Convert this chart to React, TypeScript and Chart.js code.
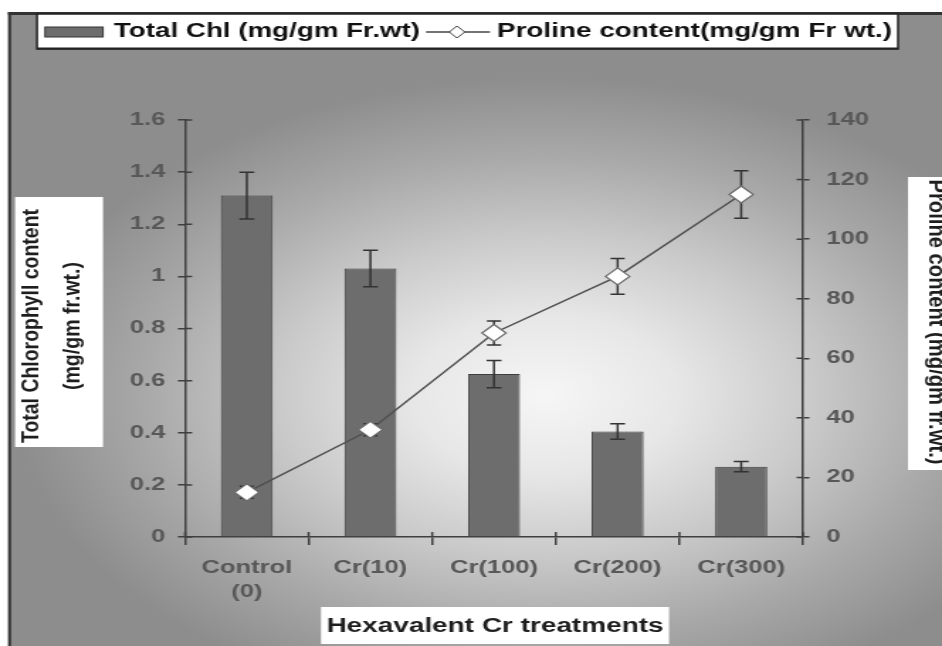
import React, { useEffect, useRef } from 'react';
import { Chart, registerables } from 'chart.js';

Chart.register(...registerables);

// ---------- data ----------
const categories: (string | string[])[] = [['Control', '(0)'], 'Cr(10)', 'Cr(100)', 'Cr(200)', 'Cr(300)'];
const chlValues = [1.31, 1.03, 0.625, 0.405, 0.27];
const chlErrors = [0.09, 0.07, 0.052, 0.03, 0.02];
const prolineValues = [15, 36, 68.5, 87.5, 115];
const prolineErrors = [2, 2, 4, 6, 8];
const leftTickLabels = ['0', '0.2', '0.4', '0.6', '0.8', '1', '1.2', '1.4', '1.6'];
const rightTickLabels = ['0', '20', '40', '60', '80', '100', '120', '140'];
const legendLabels = ['Total Chl (mg/gm Fr.wt)', 'Proline content(mg/gm Fr wt.)'];
const xTitle = 'Hexavalent Cr treatments';
const leftTitle = ['Total Chlorophyll content', '(mg/gm fr.wt.)'];
const rightTitle = 'Proline content (mg/gm fr.wt.)';

// ---------- geometry (canvas is drawn narrower and stretched horizontally) ----------
const CW = 664;
const CH = 646;
const DW = 942;
const S = DW / CW;
const X = (v: number) => v / S;
const FONT = '"Liberation Sans", Arial, Helvetica, sans-serif';
const AXIS = '#3f3f3f';
const TICK_TEXT = '#585858';

function fitText(
  ctx: CanvasRenderingContext2D,
  text: string,
  x: number,
  y: number,
  target: number,
  font: string,
  rotation: number,
  color: string,
  align: CanvasTextAlign,
) {
  ctx.save();
  ctx.font = font;
  const w = ctx.measureText(text).width;
  ctx.translate(x, y);
  ctx.rotate(rotation);
  ctx.scale(target / w, 1);
  ctx.textAlign = align;
  ctx.textBaseline = 'middle';
  ctx.fillStyle = color;
  ctx.fillText(text, 0, 0);
  ctx.restore();
}

function drawErrorBars(ctx: CanvasRenderingContext2D, xs: number[], scale: any, values: number[], errors: number[], cap: number) {
  ctx.save();
  ctx.strokeStyle = '#333333';
  ctx.lineWidth = 1.5;
  values.forEach((v, i) => {
    const x = xs[i];
    const top = scale.getPixelForValue(v + errors[i]);
    const bot = scale.getPixelForValue(v - errors[i]);
    ctx.beginPath();
    ctx.moveTo(x, top);
    ctx.lineTo(x, bot);
    ctx.moveTo(x - cap / 2, top);
    ctx.lineTo(x + cap / 2, top);
    ctx.moveTo(x - cap / 2, bot);
    ctx.lineTo(x + cap / 2, bot);
    ctx.stroke();
  });
  ctx.restore();
}

const decorPlugin = {
  id: 'decor',
  beforeDraw(chart: any) {
    const ctx: CanvasRenderingContext2D = chart.ctx;
    ctx.save();
    ctx.fillStyle = '#ffffff';
    ctx.fillRect(0, 0, CW, CH);
    ctx.beginPath();
    ctx.rect(X(9), 13, CW - X(9), CH - 13);
    ctx.clip();
    ctx.translate(X(545), 395);
    ctx.scale(1, 0.85);
    const g = ctx.createRadialGradient(0, 0, 0, 0, 0, 375);
    g.addColorStop(0, '#f6f6f6');
    g.addColorStop(0.25, '#e7e7e7');
    g.addColorStop(0.5, '#cacaca');
    g.addColorStop(0.75, '#a9a9a9');
    g.addColorStop(1, '#8d8d8d');
    ctx.fillStyle = g;
    ctx.fillRect(-3000, -3000, 6000, 6000);
    ctx.restore();
    ctx.save();
    ctx.fillStyle = '#333333';
    ctx.fillRect(X(8), 12, X(3), CH - 12);
    ctx.fillRect(X(8), 12, CW, 3);
    ctx.restore();
  },
  beforeDatasetsDraw(chart: any) {
    const ctx: CanvasRenderingContext2D = chart.ctx;
    const a = chart.chartArea;
    ctx.save();
    ctx.strokeStyle = AXIS;
    ctx.lineWidth = 1.5;
    ctx.beginPath();
    chart.scales.y.ticks.forEach((t: any) => {
      const p = chart.scales.y.getPixelForValue(t.value);
      ctx.moveTo(a.left, p);
      ctx.lineTo(a.left + 5, p);
    });
    chart.scales.y1.ticks.forEach((t: any) => {
      const p = chart.scales.y1.getPixelForValue(t.value);
      ctx.moveTo(a.right, p);
      ctx.lineTo(a.right - 4.5, p);
    });
    const n = categories.length;
    for (let i = 0; i <= n; i++) {
      const p = a.left + (i * (a.right - a.left)) / n;
      ctx.moveTo(p, a.bottom);
      ctx.lineTo(p, a.bottom - 5);
    }
    ctx.stroke();
    ctx.restore();
  },
  afterDatasetDraw(chart: any, args: any) {
    if (args.index !== 0) return;
    const xs = args.meta.data.map((el: any) => el.x);
    drawErrorBars(chart.ctx, xs, chart.scales.y, chlValues, chlErrors, 10.5);
  },
  beforeDatasetDraw(chart: any, args: any) {
    if (args.index !== 1) return;
    const xs = args.meta.data.map((el: any) => el.x);
    drawErrorBars(chart.ctx, xs, chart.scales.y1, prolineValues, prolineErrors, 10);
  },
  afterDraw(chart: any) {
    const ctx: CanvasRenderingContext2D = chart.ctx;
    ctx.save();
    // legend box
    ctx.fillStyle = '#ffffff';
    ctx.fillRect(X(37), 14, X(898) - X(37), 35);
    ctx.strokeStyle = '#222222';
    ctx.lineWidth = 1.5;
    ctx.strokeRect(X(37), 14, X(898) - X(37), 35);
    ctx.fillStyle = '#222222';
    ctx.fillRect(X(37), 47.5, X(898) - X(37), 2);
    // bar swatch
    ctx.fillStyle = '#6d6d6d';
    ctx.fillRect(X(45), 27, X(103) - X(45), 10);
    ctx.strokeStyle = '#333333';
    ctx.lineWidth = 1;
    ctx.strokeRect(X(45), 27, X(103) - X(45), 10);
    fitText(ctx, legendLabels[0], X(114), 32, X(306), `bold 19.5px ${FONT}`, 0, '#111111', 'left');
    // line swatch
    ctx.strokeStyle = '#444444';
    ctx.lineWidth = 1.3;
    ctx.beginPath();
    ctx.moveTo(X(426), 32);
    ctx.lineTo(X(490), 32);
    ctx.stroke();
    const dx = X(457);
    ctx.beginPath();
    ctx.moveTo(dx - 5.5, 32);
    ctx.lineTo(dx, 26);
    ctx.lineTo(dx + 5.5, 32);
    ctx.lineTo(dx, 38);
    ctx.closePath();
    ctx.fillStyle = '#ffffff';
    ctx.fill();
    ctx.lineWidth = 1;
    ctx.stroke();
    fitText(ctx, legendLabels[1], X(497), 32, X(395), `bold 19.5px ${FONT}`, 0, '#111111', 'left');

    // x title
    ctx.fillStyle = '#ffffff';
    ctx.fillRect(X(321), 607, X(669) - X(321), 37);
    fitText(ctx, xTitle, X(495), 626, X(337), `bold 20px ${FONT}`, 0, '#1e1e1e', 'center');

    // left title
    ctx.fillStyle = '#ffffff';
    ctx.fillRect(X(15), 197, X(103) - X(15), 250);
    fitText(ctx, leftTitle[0], X(32), 326, 234, `bold 17px ${FONT}`, -Math.PI / 2, '#1e1e1e', 'center');
    fitText(ctx, leftTitle[1], X(73), 326, 128, `bold 17px ${FONT}`, -Math.PI / 2, '#1e1e1e', 'center');

    // right title
    ctx.fillStyle = '#ffffff';
    ctx.fillRect(X(908), 177, CW - X(908), 293);
    fitText(ctx, rightTitle, X(936), 322, 285, `bold 17px ${FONT}`, Math.PI / 2, '#1e1e1e', 'center');
    ctx.restore();
  },
};

export default function App() {
  const ref = useRef<HTMLCanvasElement>(null);
  useEffect(() => {
    const canvas = ref.current as HTMLCanvasElement;
    const tickFont = { family: FONT, size: 18, weight: 'bold' as const, lineHeight: 1.333 };
    const chart = new Chart(canvas, {
      type: 'bar',
      data: {
        labels: categories as any,
        datasets: [
          {
            type: 'bar',
            label: legendLabels[0],
            data: chlValues,
            yAxisID: 'y',
            backgroundColor: '#6d6d6d',
            borderColor: '#3e3e3e',
            borderWidth: 1,
            barPercentage: 0.42,
            categoryPercentage: 1,
            order: 2,
          } as any,
          {
            type: 'line',
            label: legendLabels[1],
            data: prolineValues,
            yAxisID: 'y1',
            borderColor: '#505050',
            borderWidth: 1.5,
            pointStyle: 'rectRot',
            pointRadius: 8.5,
            pointBackgroundColor: '#ffffff',
            pointBorderColor: '#6a6a6a',
            pointBorderWidth: 1.2,
            tension: 0,
            order: 1,
          } as any,
        ],
      },
      options: {
        responsive: false,
        maintainAspectRatio: false,
        devicePixelRatio: 1,
        animation: false,
        events: [],
        layout: { padding: { top: 120, left: 0, right: 0, bottom: 0 } },
        plugins: {
          legend: { display: false },
          tooltip: { enabled: false },
          title: { display: false },
        },
        scales: {
          x: {
            type: 'category',
            offset: true,
            grid: { display: true, drawOnChartArea: false, drawTicks: true, tickLength: 8, color: AXIS, lineWidth: 1.5, offset: true },
            border: { display: true, color: AXIS, width: 1.5 },
            ticks: { color: TICK_TEXT, font: tickFont, padding: 11, maxRotation: 0, autoSkip: false },
            afterFit: (s: any) => {
              s.height = CH - 537;
            },
          },
          y: {
            type: 'linear',
            position: 'left',
            min: 0,
            max: 1.6,
            grid: { drawOnChartArea: false, drawTicks: true, tickLength: 5, color: AXIS, lineWidth: 1.5 },
            border: { display: true, color: AXIS, width: 1.5 },
            ticks: {
              stepSize: 0.2,
              color: TICK_TEXT,
              font: tickFont,
              padding: 9,
              callback: (_v: any, i: number) => leftTickLabels[i],
            },
            afterFit: (s: any) => {
              s.width = X(185);
            },
          },
          y1: {
            type: 'linear',
            position: 'right',
            min: 0,
            max: 140,
            grid: { drawOnChartArea: false, drawTicks: true, tickLength: 4.5, color: AXIS, lineWidth: 1.5 },
            border: { display: true, color: AXIS, width: 1.5 },
            ticks: {
              stepSize: 20,
              color: TICK_TEXT,
              font: tickFont,
              padding: 12,
              callback: (_v: any, i: number) => rightTickLabels[i],
            },
            afterFit: (s: any) => {
              s.width = CW - X(803);
            },
          },
        },
      } as any,
      plugins: [decorPlugin],
    });
    return () => chart.destroy();
  }, []);
  return (
    <div style={{ position: 'absolute', left: 0, top: 0, width: DW, height: CH }}>
      <canvas ref={ref} width={CW} height={CH} style={{ width: DW + 'px', height: CH + 'px', display: 'block' }} />
    </div>
  );
}
